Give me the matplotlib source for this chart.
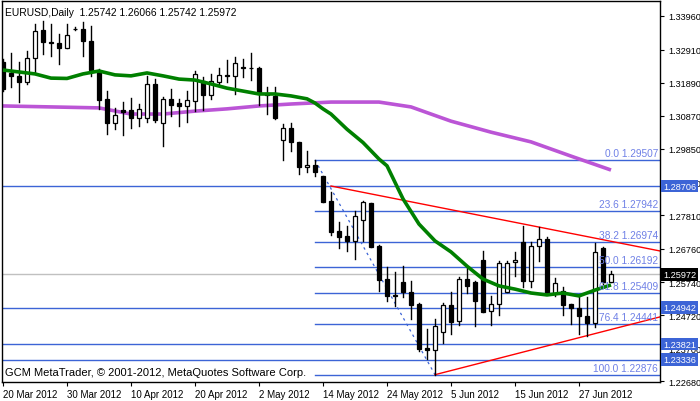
import matplotlib
matplotlib.use("Agg")
import matplotlib.pyplot as plt
from matplotlib.patches import Rectangle
import matplotlib.transforms as mtrans

plt.rcParams['font.family'] = ['Liberation Sans', 'DejaVu Sans']

opens = [1.3254,1.3220,1.3211,1.3192,1.3266,1.3353,1.3316,1.3313,1.3297,1.3356,
         1.3356,1.3319,1.3223,1.3140,1.3065,1.3106,1.3106,1.3081,1.3081,1.3186,
         1.3065,1.3140,1.3127,1.3118,1.3133,1.3195,1.3152,1.3192,1.3214,1.3211,
         1.3238,1.3235,1.3235,1.3155,1.3149,1.3013,1.3050,1.3007,1.2929,1.2936,
         1.2902,1.2824,1.2732,1.2716,1.2701,1.2766,1.2818,1.2685,1.2583,1.2534,
         1.2574,1.2543,1.2506,1.2370,1.2364,1.2420,1.2503,1.2454,1.2583,1.2574,
         1.2642,1.2484,1.2506,1.2543,1.2636,1.2698,1.2577,1.2685,1.2707,1.2540,
         1.2546,1.2506,1.2494,1.2469,1.2447,1.2679,1.25742]
highs = [1.3263,1.3282,1.3254,1.3288,1.3371,1.3381,1.3371,1.3340,1.3371,1.3362,
         1.3377,1.3365,1.3232,1.3164,1.3112,1.3130,1.3143,1.3124,1.3211,1.3201,
         1.3146,1.3170,1.3140,1.3164,1.3226,1.3208,1.3217,1.3235,1.3260,1.3269,
         1.3263,1.3282,1.3238,1.3177,1.3177,1.3062,1.3065,1.3007,1.2979,1.29507,
         1.2902,1.2852,1.2759,1.2747,1.2793,1.2824,1.2818,1.2688,1.2620,1.2605,
         1.2623,1.2577,1.2509,1.2429,1.2460,1.2509,1.2543,1.2590,1.2620,1.2577,
         1.2670,1.2531,1.2639,1.2639,1.2667,1.2747,1.2698,1.2744,1.2713,1.2586,
         1.2559,1.2506,1.2528,1.2528,1.2695,1.2682,1.26066]
lows = [1.3164,1.3177,1.3130,1.3186,1.3223,1.3279,1.3272,1.3248,1.3297,1.3353,
        1.3272,1.3211,1.3109,1.3031,1.3047,1.3028,1.3050,1.3056,1.3068,1.3068,
        1.2994,1.3087,1.3056,1.3068,1.3102,1.3106,1.3140,1.3180,1.3192,1.3155,
        1.3208,1.3198,1.3121,1.3093,1.3078,1.2951,1.2979,1.2908,1.2914,1.2902,
        1.2821,1.2719,1.2679,1.2670,1.2645,1.2701,1.2682,1.2546,1.2515,1.2500,
        1.2528,1.2460,1.2361,1.2336,1.22876,1.2386,1.2413,1.2441,1.2540,1.2438,
        1.2481,1.2441,1.2472,1.2543,1.2593,1.2559,1.2559,1.2639,1.2540,1.2531,
        1.2472,1.2444,1.2413,1.2407,1.2435,1.2568,1.25742]
closes = [1.3170,1.3211,1.3192,1.3266,1.3350,1.3316,1.3313,1.3297,1.3337,1.3355,
          1.3319,1.3229,1.3136,1.3065,1.3090,1.3099,1.3081,1.3109,1.3186,1.3075,
          1.3140,1.3121,1.3118,1.3136,1.3217,1.3152,1.3195,1.3214,1.3212,1.3251,
          1.3235,1.3234,1.3158,1.3152,1.3081,1.3050,1.3007,1.2929,1.2936,1.2914,
          1.2821,1.2729,1.2713,1.2701,1.2778,1.2821,1.2682,1.2580,1.2531,1.2531,
          1.2543,1.2503,1.2367,1.2364,1.2438,1.2503,1.2450,1.2583,1.2562,1.2515,
          1.2481,1.2506,1.2633,1.2633,1.2642,1.2577,1.2685,1.2707,1.2540,1.2571,
          1.2503,1.2494,1.2469,1.2447,1.2667,1.2574,1.25972]

ma_fast_idx = [0,4,6,8,10,12,14,16,18,20,22,24,26,28,30,32,34,36,38,39,40,41,43,45,47,48,50,52,54,56,58,60,62,64,66,68,70,72,74,76]
ma_fast = [1.3229,1.3217,1.3204,1.3203,1.3217,1.3226,1.3214,1.3211,1.3220,1.3211,1.3201,1.3198,1.3186,1.3173,
           1.3164,1.3155,1.3155,1.3149,1.3140,1.3127,1.3109,1.3093,1.3046,1.3005,1.2954,1.2933,1.2831,1.2753,
           1.2701,1.2667,1.2623,1.2583,1.2562,1.2552,1.2540,1.2534,1.2540,1.2531,1.2549,1.2565]
ma_slow_idx = [0,6,12,16,20,24,28,32,36,41,47,51,56,61,66,71,76]
ma_slow = [1.3118,1.3115,1.3112,1.3093,1.3093,1.3102,1.3109,1.3118,1.3124,1.3130,1.3130,1.3115,1.3071,1.3037,
           1.3007,1.2963,1.2920]

fib_pct = ["0.0","23.6","38.2","50.0","61.8","76.4","100.0"]
fib_vals = [1.29507,1.27942,1.26974,1.26192,1.25409,1.24441,1.22876]
hlines = [1.28706,1.24942,1.23821,1.23336]
last_price = 1.25972
ytick_vals = [1.33960,1.32910,1.31890,1.30870,1.29850,1.28830,1.27810,1.26760,1.25740,1.24720,1.23700,1.22680]
xtick_idx = [0,8,16,24,32,40,48,56,64,72]
xtick_labels = ["20 Mar 2012","30 Mar 2012","10 Apr 2012","20 Apr 2012","2 May 2012","14 May 2012",
                "24 May 2012","5 Jun 2012","15 Jun 2012","27 Jun 2012"]
upper_trend = ([41,82.1],[1.28706,1.2670])
lower_trend = ([54,82.1],[1.22876,1.2466])

BLUE = "#3c64d6"
FIBTXT = "#6f80e6"
FSY = 6.6
FS = 7.0

fig = plt.figure(figsize=(7.0,4.02), dpi=100)
ax = fig.add_axes([2/700, 19/402, 658/700, 381/402])
ax.set_xlim(-0.125, 82.125)
ax.set_ylim(1.22650, 1.34423)
for s in ax.spines.values():
    s.set_linewidth(1); s.set_color("black")

for v in hlines:
    ax.axhline(v, color=BLUE, lw=1, zorder=1)
ax.axhline(last_price, color="#c0c0c0", lw=1, zorder=1)
for p, v in zip(fib_pct, fib_vals):
    ax.plot([39, 82.125], [v, v], color=BLUE, lw=1, zorder=1)
    ax.text(81.9, v + 0.0006, f"{p} {v:.5f}", color=FIBTXT, fontsize=FS+0.3, ha="right", va="bottom", zorder=5)
ax.plot([39, 54], [fib_vals[0], fib_vals[-1]], color=BLUE, lw=0.9, ls=(0,(2,3)), zorder=1)
ax.plot(*upper_trend, color="red", lw=1, zorder=2)
ax.plot(*lower_trend, color="red", lw=1, zorder=2)

ax.plot(ma_slow_idx, ma_slow, color="#bb55d6", lw=2.6, zorder=2, solid_capstyle="butt")
ax.plot(ma_fast_idx, ma_fast, color="#008000", lw=2.6, zorder=4, solid_capstyle="butt")

w = 0.62
for i, (o, h, l, c) in enumerate(zip(opens, highs, lows, closes)):
    ax.plot([i, i], [l, h], color="black", lw=1, zorder=3)
    lo, hi = min(o, c), max(o, c)
    ht = max(hi - lo, 0.0002)
    ax.add_patch(Rectangle((i - w/2, lo), w, ht, facecolor="white" if c > o else "black",
                           edgecolor="black", lw=0.9, zorder=3))

ax.yaxis.tick_right()
ax.set_yticks(ytick_vals)
ax.set_yticklabels([f"{v:.5f}" for v in ytick_vals], fontsize=FSY)
ax.set_xticks(xtick_idx)
ax.set_xticklabels(xtick_labels, fontsize=FS, ha="left")
ax.tick_params(axis="y", length=3, pad=3)
ax.tick_params(axis="x", length=3, pad=2)

tr = mtrans.blended_transform_factory(ax.transAxes, ax.transData)
for v in hlines:
    ax.text(1.005, v, f"{v:.5f}", transform=tr, fontsize=FSY, color="white", va="center", ha="left",
            bbox=dict(boxstyle="square,pad=0.2", fc=BLUE, ec="none"), clip_on=False, zorder=10)
ax.text(1.005, last_price, f"{last_price:.5f}", transform=tr, fontsize=FSY, color="white", va="center", ha="left",
        bbox=dict(boxstyle="square,pad=0.2", fc="black", ec="none"), clip_on=False, zorder=10)

ax.text(0.005, 0.985, "EURUSD,Daily  1.25742 1.26066 1.25742 1.25972", transform=ax.transAxes,
        fontsize=7.4, va="top", ha="left")
ax.text(0.005, 0.012, "GCM MetaTrader, © 2001-2012, MetaQuotes Software Corp.", transform=ax.transAxes,
        fontsize=8.0, va="bottom", ha="left", zorder=6)

fig.savefig("out.png", dpi=100)
